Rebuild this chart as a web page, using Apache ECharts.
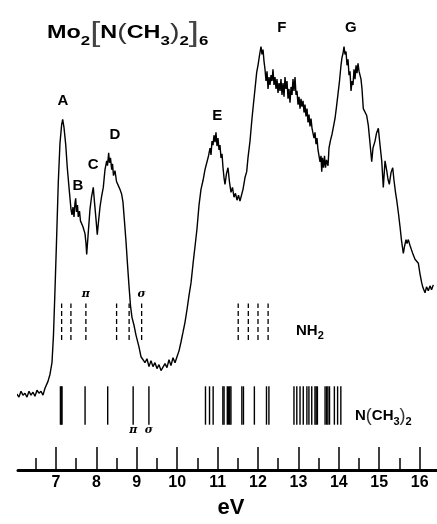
<!DOCTYPE html>
<html>
<head>
<meta charset="utf-8">
<script src="https://cdn.jsdelivr.net/npm/echarts@6/dist/echarts.min.js"></script>
<style>
html, body { margin: 0; padding: 0; background: #fff; }
#main { width: 437px; height: 524px; }
</style>
</head>
<body>
<div id="main"></div>
<script>
// photoelectron spectrum, ionization energy (eV) vs counts (arb. units)
var energy = [5.985,6.035,6.084,6.134,6.183,6.233,6.282,6.332,6.381,6.431,6.480,6.530,6.579,6.629,6.678,6.728,6.802,6.851,6.901,6.938,
  6.975,7.017,7.057,7.099,7.141,7.166,7.198,7.240,7.280,7.329,7.371,7.396,7.421,7.446,7.470,7.488,7.507,7.532,7.552,7.582,
  7.606,7.636,7.668,7.718,7.743,7.760,7.792,7.842,7.879,7.923,7.953,7.990,8.022,8.052,8.089,8.126,8.171,8.213,8.255,8.275,
  8.304,8.324,8.349,8.379,8.399,8.423,8.460,8.498,8.542,8.584,8.626,8.658,8.696,8.733,8.770,8.807,8.844,8.881,8.931,8.980,
  9.017,9.054,9.104,9.153,9.203,9.252,9.302,9.351,9.401,9.450,9.500,9.549,9.599,9.648,9.698,9.747,9.797,9.846,9.896,9.946,
  9.995,10.045,10.094,10.144,10.193,10.243,10.292,10.342,10.391,10.441,10.490,10.540,10.589,10.639,10.688,10.738,10.775,10.812,10.837,10.861,
  10.886,10.911,10.936,10.960,10.985,11.010,11.035,11.059,11.084,11.109,11.134,11.158,11.183,11.220,11.257,11.295,11.332,11.369,11.406,11.443,
  11.480,11.517,11.554,11.591,11.629,11.678,11.720,11.752,11.802,11.851,11.888,11.926,11.968,12.000,12.037,12.074,12.099,12.124,12.149,12.173,
  12.198,12.223,12.248,12.272,12.297,12.322,12.347,12.371,12.396,12.421,12.446,12.470,12.495,12.520,12.545,12.569,12.594,12.619,12.644,12.668,
  12.693,12.718,12.743,12.767,12.792,12.817,12.842,12.866,12.891,12.916,12.941,12.965,12.990,13.015,13.040,13.064,13.089,13.114,13.139,13.163,
  13.188,13.213,13.238,13.262,13.287,13.312,13.337,13.361,13.386,13.411,13.436,13.460,13.485,13.510,13.535,13.559,13.577,13.596,13.621,13.646,
  13.671,13.696,13.733,13.757,13.795,13.832,13.869,13.906,13.943,13.980,14.017,14.054,14.079,14.104,14.129,14.153,14.178,14.203,14.228,14.252,
  14.277,14.302,14.327,14.351,14.376,14.401,14.426,14.450,14.475,14.500,14.525,14.549,14.574,14.606,14.648,14.690,14.730,14.772,14.814,14.846,
  14.896,14.933,14.978,15.020,15.062,15.101,15.144,15.186,15.218,15.250,15.292,15.334,15.366,15.403,15.433,15.478,15.515,15.552,15.597,15.626,
  15.663,15.688,15.720,15.762,15.804,15.837,15.886,15.923,15.968,16.010,16.052,16.084,16.134,16.171,16.215,16.257,16.295,16.339];
var counts = [73,77,74,80,76,78,74,80,76,79,75,81,78,80,76,83,90,97,109,137,
  182,237,292,332,351,356,348,331,307,284,265,259,267,257,271,276,262,269,257,263,
  253,255,247,240,230,219,237,265,277,287,272,255,239,252,267,277,287,305,314,309,
  322,312,317,305,311,299,304,293,291,285,280,272,252,232,209,187,167,155,147,137,
  139,125,115,117,109,113,105,111,105,109,103,107,101,100,108,104,112,106,114,109,
  115,121,130,140,150,163,177,190,209,227,245,269,285,294,305,313,319,327,320,334,
  330,340,333,343,329,337,325,330,317,321,307,297,290,301,307,292,282,287,277,281,
  274,279,273,279,285,297,303,317,334,357,372,387,404,411,421,430,422,427,415,407,
  395,405,387,399,391,401,395,407,391,399,387,397,383,393,385,397,381,393,379,399,
  387,395,377,387,373,389,381,397,385,399,381,385,371,379,367,377,369,375,363,371,
  359,367,353,361,349,357,347,349,337,343,331,337,325,327,313,319,303,317,307,319,
  307,315,309,327,335,341,349,357,369,382,395,411,419,423,430,422,425,411,417,401,
  405,385,395,391,407,397,411,403,413,405,407,397,387,367,365,360,350,332,313,327,
  334,342,347,330,314,287,314,304,295,290,302,307,294,282,274,260,247,233,220,227,
  234,230,234,228,227,219,214,215,210,199,190,185,180,186,182,187,183,188];

// calculated ionization energies
var nh2Sticks = [7.14, 7.37, 7.74, 8.50, 8.81, 9.12, 11.51, 11.76, 12.00, 12.25];
var nme2Sticks = [7.11, 7.13, 7.15, 7.72, 8.28, 8.91, 9.30,
  10.70, 10.80, 10.89, 11.13, 11.16, 11.24, 11.27, 11.30, 11.33, 11.60, 11.64, 11.91, 12.21, 12.27,
  12.89, 12.96, 13.04, 13.12, 13.21, 13.26, 13.33, 13.41, 13.44, 13.47,
  13.66, 13.70, 13.73, 13.77, 13.89, 13.97, 14.05];
var nh2Band = [132, 169];
var nme2Band = [46, 85];

var peakNames = ['A', 'B', 'C', 'D', 'E', 'F', 'G'];
var peakEnergy = [7.17, 7.54, 7.92, 8.46, 10.99, 12.59, 14.30];
var peakCounts = [375, 289, 310, 340, 360, 449, 449];

var greekNames = ['π', 'σ', 'π', 'σ'];
var greekEnergy = [7.74, 9.12, 8.91, 9.30];
var greekCounts = [179, 179, 40, 40];

var majorTicks = [7, 8, 9, 10, 11, 12, 13, 14, 15, 16];
var minorTicks = [6.5, 7.5, 8.5, 9.5, 10.5, 11.5, 12.5, 13.5, 14.5, 15.5];

var FONT = 'Liberation Sans';

function stickSeries(list, band, dashed) {
    return {
        type: 'custom',
        silent: true,
        renderItem: function (params, api) {
            var p1 = api.coord([api.value(0), band[0]]);
            var p2 = api.coord([api.value(0), band[1]]);
            return {
                type: 'line',
                shape: { x1: p1[0], y1: p1[1], x2: p2[0], y2: p2[1] },
                style: { stroke: '#000', lineWidth: dashed ? 1.3 : 1.4, lineDash: dashed ? [5, 3] : null }
            };
        },
        data: list.map(function (e) { return [e, band[0]]; })
    };
}

function labelSeries(names, xs, ys, style) {
    return {
        type: 'scatter',
        silent: true,
        symbolSize: 0,
        itemStyle: { color: '#000', opacity: 1 },
        data: names.map(function (n, i) { return [xs[i], ys[i], n]; }),
        label: Object.assign({
            show: true,
            position: 'inside',
            color: '#000',
            opacity: 1,
            textBorderWidth: 0,
            textBorderColor: 'transparent',
            formatter: function (p) { return p.data[2]; }
        }, style)
    };
}

var myChart = echarts.init(document.getElementById('main'));
var option = {
    animation: false,
    backgroundColor: '#fff',
    grid: { left: 18, right: 0, top: 20, bottom: 47 },
    xAxis: [
        {
            type: 'value',
            min: 6.06,
            max: 16.43,
            name: 'eV',
            nameLocation: 'middle',
            nameGap: 27,
            nameTextStyle: { fontSize: 22, fontWeight: 'bold', color: '#000', fontFamily: FONT, padding: [0, 0, 0, 7] },
            axisLine: { show: true, onZero: false, lineStyle: { color: '#000', width: 3 } },
            axisTick: { show: true, inside: true, length: 23, customValues: majorTicks, lineStyle: { color: '#000', width: 1.5 } },
            axisLabel: { show: true, customValues: majorTicks, margin: 5, fontSize: 16, fontWeight: 'bold', color: '#000', fontFamily: FONT },
            splitLine: { show: false }
        },
        {
            type: 'value',
            min: 6.06,
            max: 16.43,
            position: 'bottom',
            axisLine: { show: false, onZero: false },
            axisTick: { show: true, inside: true, length: 12, customValues: minorTicks, lineStyle: { color: '#000', width: 1.5 } },
            axisLabel: { show: false },
            splitLine: { show: false }
        }
    ],
    yAxis: { type: 'value', min: 0, max: 457, show: false },
    series: [
        {
            type: 'line',
            data: energy.map(function (e, i) { return [e, counts[i]]; }),
            symbol: 'none',
            clip: false,
            lineStyle: { color: '#000', width: 1.4 }
        },
        stickSeries(nh2Sticks, nh2Band, true),
        stickSeries(nme2Sticks, nme2Band, false),
        labelSeries(peakNames, peakEnergy, peakCounts, { fontSize: 15, fontWeight: 'bold', fontFamily: FONT }),
        labelSeries(greekNames, greekEnergy, greekCounts, { fontSize: 11, fontStyle: 'italic', fontWeight: 'bold', fontFamily: 'DejaVu Serif' })
    ],
    graphic: [
        {
            type: 'text',
            left: 47,
            top: 19,
            scaleX: 1.3,
            style: {
                text: '{b|Mo}{s|2}{k|[}{b|N}{p|(}{b|CH}{s|3}{p|)}{s|2}{k|]}{s|6}',
                fill: '#000',
                rich: {
                    b: { fontSize: 18, fontWeight: 'bold', fontFamily: FONT, lineHeight: 30, fill: '#000' },
                    s: { fontSize: 13, fontWeight: 'bold', fontFamily: FONT, lineHeight: 15, verticalAlign: 'bottom', fill: '#000' },
                    k: { fontSize: 28, fontWeight: 'normal', fontFamily: FONT, lineHeight: 30, fill: '#444' },
                    p: { fontSize: 22, fontWeight: 'normal', fontFamily: FONT, lineHeight: 30, fill: '#333' }
                }
            }
        },
        {
            type: 'text',
            left: 296,
            top: 323,
            style: {
                text: '{b|NH}{s|2}',
                rich: {
                    b: { fontSize: 15, fontWeight: 'bold', fontFamily: FONT, lineHeight: 22, fill: '#000' },
                    s: { fontSize: 11, fontWeight: 'bold', fontFamily: FONT, lineHeight: 11, verticalAlign: 'bottom', fill: '#000' }
                }
            }
        },
        {
            type: 'text',
            left: 355,
            top: 407,
            style: {
                text: '{b|N}{p|(}{b|CH}{s|3}{p|)}{s|2}',
                rich: {
                    b: { fontSize: 15, fontWeight: 'bold', fontFamily: FONT, lineHeight: 22, fill: '#000' },
                    s: { fontSize: 11, fontWeight: 'bold', fontFamily: FONT, lineHeight: 11, verticalAlign: 'bottom', fill: '#000' },
                    p: { fontSize: 18, fontWeight: 'normal', fontFamily: FONT, lineHeight: 22, fill: '#333' }
                }
            }
        }
    ]
};
myChart.setOption(option, true);
</script>
</body>
</html>
